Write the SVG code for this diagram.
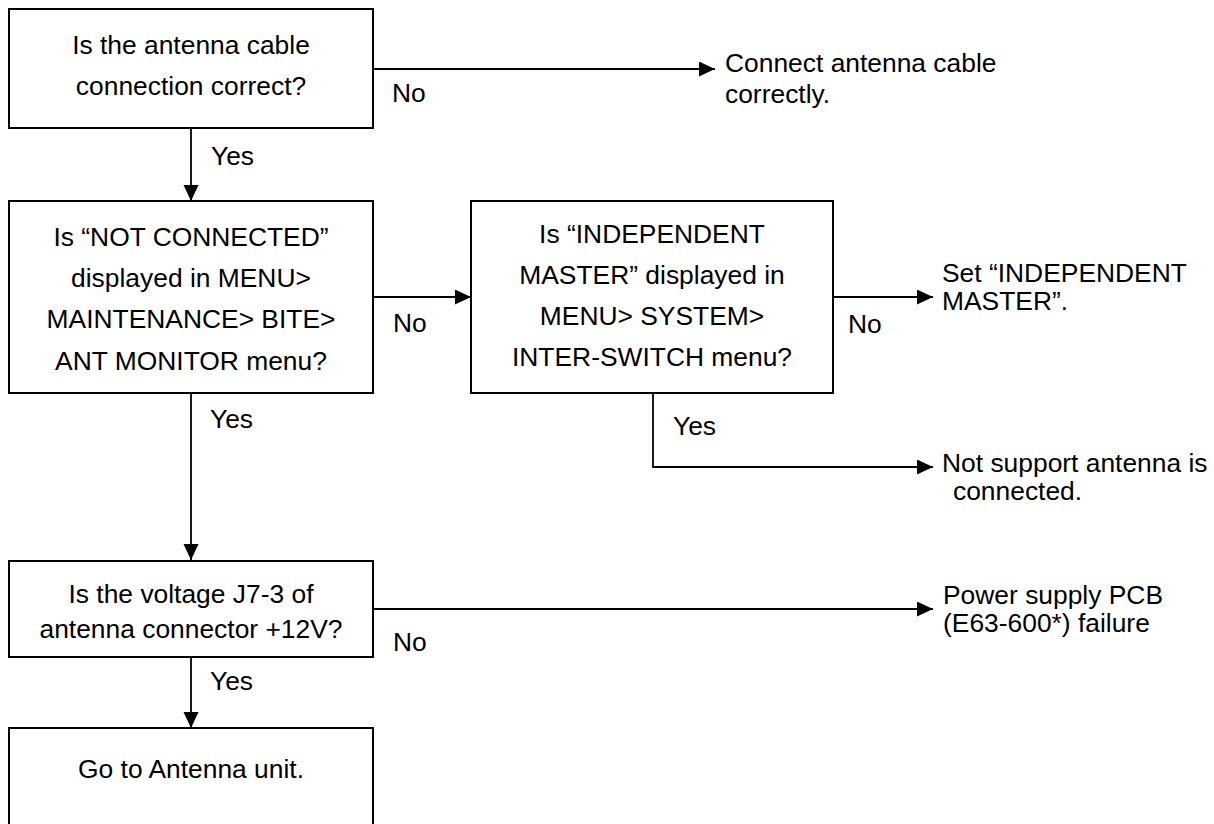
<svg xmlns="http://www.w3.org/2000/svg" width="1214" height="824" viewBox="0 0 1214 824">
<defs>
<marker id="arr" markerUnits="userSpaceOnUse" markerWidth="18" markerHeight="18" refX="16" refY="7.5" orient="auto">
<path d="M0,0 L16,7.5 L0,15 z" fill="#000"/>
</marker>
<style>
.box{fill:#fff;stroke:#000;stroke-width:2}
.t{font-family:"Liberation Sans",Arial,sans-serif;font-size:26.4px;fill:#000}
.c{text-anchor:middle}
.ln{fill:none;stroke:#000;stroke-width:1.8}
</style>
</defs>
<rect width="1214" height="824" fill="#fff"/>
<g id="connectors">
<path class="ln" d="M373,69 H715" marker-end="url(#arr)"/>
<path class="ln" d="M191,128 V201" marker-end="url(#arr)"/>
<path class="ln" d="M373,297 H471" marker-end="url(#arr)"/>
<path class="ln" d="M833,297 H933" marker-end="url(#arr)"/>
<path class="ln" d="M653,393 V467 H933" marker-end="url(#arr)"/>
<path class="ln" d="M191,393 V560" marker-end="url(#arr)"/>
<path class="ln" d="M373,609 H933" marker-end="url(#arr)"/>
<path class="ln" d="M191,657 V728" marker-end="url(#arr)"/>
<text class="t" x="392" y="102">No</text>
<text class="t" x="211" y="165">Yes</text>
<text class="t" x="393" y="332">No</text>
<text class="t" x="848" y="333">No</text>
<text class="t" x="673" y="435">Yes</text>
<text class="t" x="210" y="428">Yes</text>
<text class="t" x="393" y="651">No</text>
<text class="t" x="210" y="690">Yes</text>
</g>
<g id="n1">
<rect class="box" x="9" y="9" width="364" height="119"/>
<text class="t c" x="191" y="54">Is the antenna cable</text>
<text class="t c" x="191" y="95">connection correct?</text>
</g>
<g id="n2">
<rect class="box" x="9" y="201" width="364" height="192"/>
<text class="t c" x="191" y="246">Is “NOT CONNECTED”</text>
<text class="t c" x="191" y="287">displayed in MENU&gt;</text>
<text class="t c" x="191" y="328">MAINTENANCE&gt; BITE&gt;</text>
<text class="t c" x="191" y="370">ANT MONITOR menu?</text>
</g>
<g id="n3">
<rect class="box" x="471" y="201" width="362" height="192"/>
<text class="t c" x="652" y="243">Is “INDEPENDENT</text>
<text class="t c" x="652" y="284">MASTER” displayed in</text>
<text class="t c" x="652" y="325">MENU&gt; SYSTEM&gt;</text>
<text class="t c" x="652" y="366">INTER-SWITCH menu?</text>
</g>
<g id="n4">
<rect class="box" x="9" y="561" width="364" height="96"/>
<text class="t c" x="191" y="603">Is the voltage J7-3 of</text>
<text class="t c" x="191" y="638">antenna connector +12V?</text>
</g>
<g id="n5">
<rect class="box" x="9" y="728" width="364" height="120"/>
<text class="t c" x="191" y="778">Go to Antenna unit.</text>
</g>
<g id="r1">
<text class="t" x="725" y="72">Connect antenna cable</text>
<text class="t" x="725" y="103">correctly.</text>
</g>
<g id="r2">
<text class="t" x="942" y="282">Set “INDEPENDENT</text>
<text class="t" x="942" y="310">MASTER”.</text>
</g>
<g id="r3">
<text class="t" x="942" y="472">Not support antenna is</text>
<text class="t" x="953" y="500">connected.</text>
</g>
<g id="r4">
<text class="t" x="943" y="604">Power supply PCB</text>
<text class="t" x="943" y="632">(E63-600*) failure</text>
</g>
</svg>
